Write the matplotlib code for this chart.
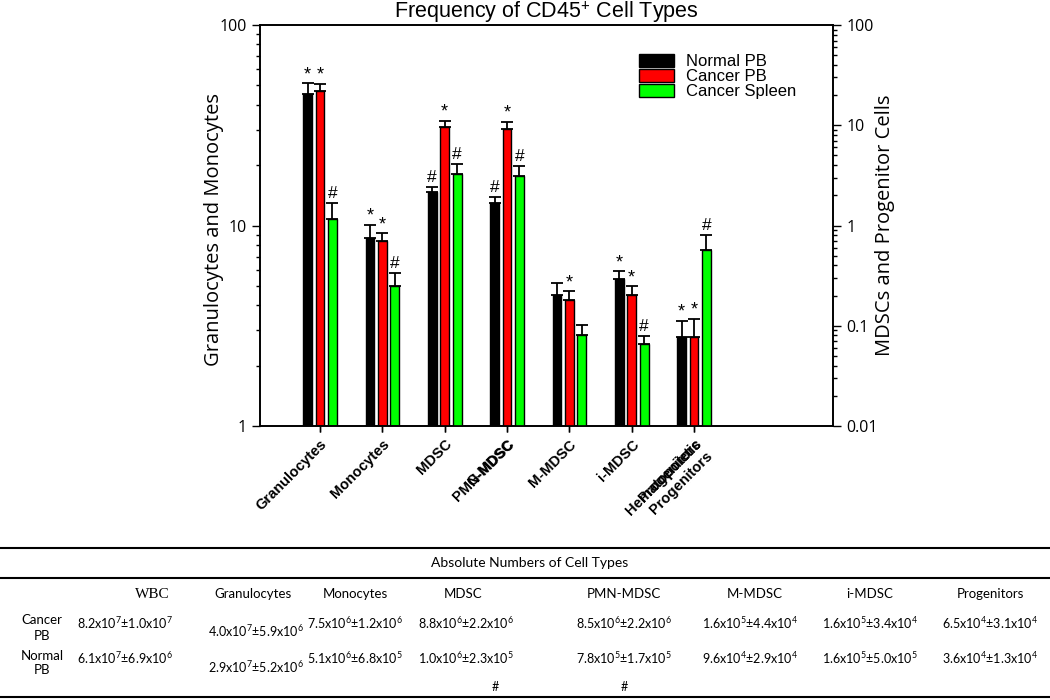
import matplotlib.pyplot as plt
import numpy as np
from matplotlib.patches import Patch
from matplotlib.lines import Line2D
from matplotlib.ticker import FuncFormatter, NullFormatter

plt.rcParams['font.family'] = ['Liberation Sans', 'DejaVu Sans']
plt.rcParams['mathtext.fontset'] = 'custom'
plt.rcParams['mathtext.rm'] = 'Lato'
plt.rcParams['mathtext.it'] = 'Lato:italic'
plt.rcParams['mathtext.bf'] = 'Lato:bold'

# chart data (first two groups on left axis, the rest on right axis)
categories = ['Granulocytes', 'Monocytes', 'MDSC', 'PMN-MDSC', 'M-MDSC', 'i-MDSC', 'Hematopoietic\nProgenitors']
overlap_labels = ['', '', '', 'G-MDSC', '', '', 'Progenitors']
n_left = 2

normal_pb = [45.5, 8.7, 2.17, 1.69, 0.201, 0.293, 0.077]
normal_err = [5.8, 1.4, 0.27, 0.23, 0.064, 0.056, 0.035]
cancer_pb = [47.0, 8.4, 9.55, 9.19, 0.182, 0.201, 0.077]
cancer_err = [3.9, 0.76, 1.55, 1.6, 0.038, 0.046, 0.041]
cancer_spleen = [10.8, 5.0, 3.29, 3.14, 0.080, 0.066, 0.571]
spleen_err = [2.2, 0.82, 0.78, 0.75, 0.021, 0.0134, 0.229]

normal_marks = ['*', '*', '#', '#', '', '*', '*']
cancer_marks = ['*', '*', '*', '*', '*', '*', '*']
spleen_marks = ['#', '#', '#', '#', '', '#', '#']

# table data
table_cols = ['WBC', 'Granulocytes', 'Monocytes', 'MDSC', 'PMN-MDSC', 'M-MDSC', 'i-MDSC', 'Progenitors']
table_rows = ['Cancer\nPB', 'Normal\nPB']
cancer_abs = ['8.2x10$^{7}$±1.0x10$^{7}$', '4.0x10$^{7}$±5.9x10$^{6}$', '7.5x10$^{6}$±1.2x10$^{6}$',
              '8.8x10$^{6}$±2.2x10$^{6}$', '8.5x10$^{6}$±2.2x10$^{6}$', '1.6x10$^{5}$±4.4x10$^{4}$',
              '1.6x10$^{5}$±3.4x10$^{4}$', '6.5x10$^{4}$±3.1x10$^{4}$']
normal_abs = ['6.1x10$^{7}$±6.9x10$^{6}$', '2.9x10$^{7}$±5.2x10$^{6}$', '5.1x10$^{6}$±6.8x10$^{5}$',
              '1.0x10$^{6}$±2.3x10$^{5}$', '7.8x10$^{5}$±1.7x10$^{5}$', '9.6x10$^{4}$±2.9x10$^{4}$',
              '1.6x10$^{5}$±5.0x10$^{5}$', '3.6x10$^{4}$±1.3x10$^{4}$']
normal_abs_marks = ['', '', '', '#', '#', '', '', '']

W, H = 1050, 700
fig = plt.figure(figsize=(W / 100, H / 100), dpi=100)
ax = fig.add_axes([260 / W, 1 - 426 / H, (833 - 260) / W, (426 - 25) / H])
ax2 = ax.twinx()

ax.set_yscale('log')
ax2.set_yscale('log')
ax.set_ylim(1, 100)
ax2.set_ylim(0.01, 100)
x = np.arange(len(categories))
ax.set_xlim(-0.963, 8.23)

series = [
    (normal_pb, normal_err, normal_marks, 'black', 'Normal PB'),
    (cancer_pb, cancer_err, cancer_marks, '#ff0000', 'Cancer PB'),
    (cancer_spleen, spleen_err, spleen_marks, '#00ff00', 'Cancer Spleen'),
]
offsets = [-0.2, 0.0, 0.2]
bw = 0.14

for k, (vals, errs, marks, color, name) in enumerate(series):
    for i in range(len(categories)):
        target = ax if i < n_left else ax2
        bottom = 1 if i < n_left else 0.01
        xi = x[i] + offsets[k]
        target.bar(xi, vals[i] - bottom, bottom=bottom, width=bw, color=color,
                   edgecolor='black', linewidth=1, zorder=2)
        target.errorbar(xi, vals[i], yerr=[[0], [errs[i]]], fmt='none', ecolor='black',
                        elinewidth=1.3, capsize=4, capthick=1.3, zorder=3)
        if marks[i]:
            if marks[i] == '*':
                target.annotate('*', (xi, vals[i] + errs[i]), xytext=(0, 0),
                                textcoords='offset points', ha='center', va='bottom',
                                fontsize=13, zorder=4)
            else:
                target.annotate('#', (xi, vals[i] + errs[i]), xytext=(0, 1.5),
                                textcoords='offset points', ha='center', va='bottom',
                                fontsize=12.5, zorder=4)

fmt = FuncFormatter(lambda v, p: '{:g}'.format(v))
for a in (ax, ax2):
    a.yaxis.set_major_formatter(fmt)
    a.yaxis.set_minor_formatter(NullFormatter())
    a.tick_params(axis='y', which='major', length=6, width=1, labelsize=11.5, direction='out')
    a.tick_params(axis='y', which='minor', length=3, width=1, direction='out')
    for lab in a.get_yticklabels():
        lab.set_fontfamily('Open Sans')
    for s in a.spines.values():
        s.set_linewidth(1.2)

ax.set_xticks(x)
ax.set_xticklabels(categories, rotation=45, ha='right', va='top', rotation_mode='anchor',
                   fontsize=10.5, fontweight='bold')
ax.tick_params(axis='x', length=4, width=1, pad=4)

sec = ax.secondary_xaxis('bottom')
sec.set_xticks(x)
sec.set_xticklabels(overlap_labels, rotation=45, ha='right', va='top', rotation_mode='anchor',
                    fontsize=10.5, fontweight='bold')
sec.tick_params(axis='x', length=4, width=1, pad=4)
sec.spines['bottom'].set_visible(False)

ax.set_ylabel('Granulocytes and Monocytes', fontsize=14.5, fontfamily='Open Sans')
ax.yaxis.set_label_coords((224 - 260) / 573, 0.49)
ax2.set_ylabel('MDSCs and Progenitor Cells', fontsize=14.5, fontfamily='Open Sans')
ax2.yaxis.set_label_coords((875 - 260) / 573, 0.5)
ax.set_title('Frequency of CD45$^{+}$ Cell Types', fontsize=15.5, pad=3)

handles = [Patch(facecolor=c, edgecolor='black', label=n) for _, _, _, c, n in series]
fig.legend(handles=handles, loc='upper left', bbox_to_anchor=(639 / W, 1 - 54 / H), frameon=False,
           fontsize=12, handlelength=2.1, handleheight=0.78, handletextpad=0.7,
           labelspacing=0.0, borderpad=0, borderaxespad=0)

# table below the chart
for yy in (548, 578, 697):
    fig.add_artist(Line2D([0, 1], [1 - yy / H, 1 - yy / H], transform=fig.transFigure,
                          color='black', linewidth=1.5))
tfont = 'Lato'
fig.text(530 / W, 1 - 563 / H, 'Absolute Numbers of Cell Types', ha='center', va='center',
         fontsize=10, fontfamily=tfont)
col_x = [152, 253, 355, 463, 624, 755, 870, 990]
val_x = [125, 256, 355, 466, 624, 750, 870, 990]
mark_x = [0, 0, 0, 495, 624, 0, 0, 0]
for j, c in enumerate(table_cols):
    fam = 'Liberation Serif' if c == 'WBC' else tfont
    fig.text(col_x[j] / W, 1 - 594 / H, c, ha='center', va='center',
             fontsize=11 if c == 'WBC' else 9.5, fontfamily=fam)
fig.text(42 / W, 1 - 628 / H, table_rows[0], ha='center', va='center', fontsize=9.5,
         fontfamily=tfont, linespacing=1.3)
fig.text(42 / W, 1 - 663 / H, table_rows[1], ha='center', va='center', fontsize=9.5,
         fontfamily=tfont, linespacing=1.3)
for j in range(len(table_cols)):
    yc = 631 if j == 1 else 623
    yn = 667 if j == 1 else 658
    fig.text(val_x[j] / W, 1 - yc / H, cancer_abs[j], ha='center', va='center', fontsize=9,
             fontfamily=tfont)
    fig.text(val_x[j] / W, 1 - yn / H, normal_abs[j], ha='center', va='center', fontsize=9,
             fontfamily=tfont)
    if normal_abs_marks[j]:
        fig.text(mark_x[j] / W, 1 - 687 / H, normal_abs_marks[j], ha='center', va='center',
                 fontsize=9, fontfamily=tfont)

fig.savefig('out.png', dpi=100)
